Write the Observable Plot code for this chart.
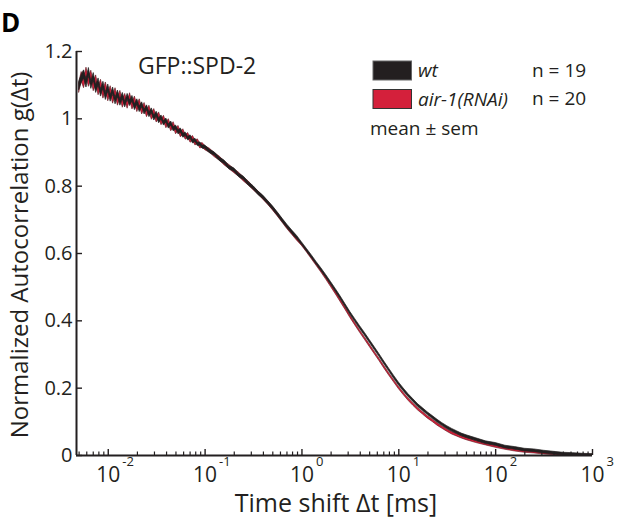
<!DOCTYPE html>
<html><head><meta charset="utf-8">
<script src="https://cdn.jsdelivr.net/npm/d3@7"></script>
<script src="https://cdn.jsdelivr.net/npm/@observablehq/plot@0.6"></script>
<style>body{margin:0;background:#fff} svg{display:block}</style>
</head><body><div id="chart"></div>
<script>
// Time shift Δt [ms]
const tMs = [
0.005012,0.005309,0.005623,0.005957,0.006310,0.006683,0.007079,0.007499,0.007943,0.008414,0.008913,0.009441,
0.01000,0.01059,0.01122,0.01189,0.01259,0.01334,0.01413,0.01496,0.01585,0.01679,0.01778,0.01884,0.01995,0.02113,
0.02239,0.02371,0.02512,0.02661,0.02818,0.02985,0.03162,0.03350,0.03548,0.03758,0.03981,0.04217,0.04467,0.04732,
0.05012,0.05309,0.05623,0.05957,0.06310,0.06683,0.07079,0.07499,0.07943,0.08414,0.08913,0.09441,
0.1000,0.1122,0.1259,0.1413,0.1585,0.1778,0.1995,0.2239,0.2512,0.2818,0.3162,0.3548,0.3981,0.4467,0.5012,0.5623,
0.6310,0.7079,0.7943,0.8913,1.000,1.122,1.259,1.413,1.585,1.778,1.995,2.239,2.512,2.818,3.162,3.548,3.981,4.467,
5.012,5.623,6.310,7.079,7.943,8.913,10.00,11.22,12.59,14.13,15.85,17.78,19.95,22.39,25.12,28.18,31.62,35.48,
39.81,44.67,50.12,
63.10,79.43,100.0,125.9,158.5,199.5,251.2,316.2,398.1,501.2,631.0,794.3,1000
];
// wt: mean and sem
const wtMean = [
1.098,1.118,1.132,1.105,1.140,1.100,1.125,1.088,1.110,1.076,1.100,1.066,1.092,1.060,1.084,1.052,1.075,1.048,
1.068,1.042,1.066,1.046,1.060,1.034,1.050,1.028,1.042,1.020,1.033,1.012,1.024,1.002,1.014,0.994,1.004,0.986,
0.995,0.977,0.986,0.969,0.974,0.960,0.965,0.950,0.954,0.941,0.946,0.932,0.936,0.924,0.925,0.916,
0.916,0.903,0.895,0.880,0.871,0.855,0.848,0.832,0.823,0.807,0.795,0.779,0.767,0.751,0.735,0.717,0.698,0.680,
0.663,0.647,0.629,0.610,0.591,0.571,0.552,0.532,0.511,0.490,0.468,0.445,0.422,0.401,0.380,0.360,0.339,0.318,
0.297,0.275,0.254,0.233,0.213,0.195,0.178,0.163,0.148,0.136,0.124,0.113,0.102,0.092,0.083,0.075,0.068,0.061,0.056,
0.047,0.038,0.033,0.025,0.021,0.016,0.014,0.010,0.007,0.004,0.003,0.001,0.000
];
const wtSem = [
0.012,0.012,0.012,0.012,0.011,0.011,0.011,0.011,0.010,0.010,0.010,0.010,0.010,0.009,0.009,0.009,0.009,0.009,
0.009,0.008,0.008,0.008,0.008,0.008,0.008,0.008,0.007,0.007,0.007,0.007,0.007,0.007,0.007,0.007,0.006,0.006,
0.006,0.006,0.006,0.006,0.006,0.006,0.006,0.006,0.005,0.005,0.005,0.005,0.005,0.005,0.005,0.005,
0.005,0.005,0.005,0.005,0.005,0.005,0.005,0.005,0.005,0.005,0.005,0.005,0.005,0.005,0.005,0.005,0.005,0.005,
0.005,0.005,0.004,0.004,0.004,0.004,0.004,0.004,0.004,0.004,0.004,0.004,0.004,0.004,0.004,0.004,0.004,0.004,
0.004,0.004,0.004,0.004,0.004,0.004,0.004,0.004,0.004,0.004,0.004,0.004,0.004,0.004,0.004,0.004,0.004,0.004,0.004,
0.004,0.004,0.004,0.004,0.004,0.004,0.004,0.004,0.004,0.004,0.004,0.004,0.004
];
// air-1(RNAi): mean and sem
const rnaiMean = [
1.092,1.125,1.105,1.138,1.108,1.130,1.095,1.116,1.082,1.104,1.072,1.096,1.064,1.086,1.056,1.080,1.050,1.072,
1.044,1.064,1.040,1.066,1.038,1.056,1.030,1.048,1.022,1.038,1.014,1.030,1.006,1.020,0.998,1.010,0.989,1.001,
0.980,0.991,0.971,0.982,0.962,0.971,0.953,0.961,0.945,0.951,0.936,0.942,0.928,0.932,0.919,0.921,
0.913,0.905,0.892,0.882,0.868,0.857,0.845,0.834,0.820,0.808,0.793,0.780,0.765,0.750,0.733,0.715,0.696,0.677,
0.660,0.643,0.626,0.607,0.587,0.567,0.547,0.526,0.504,0.482,0.459,0.436,0.412,0.390,0.368,0.347,0.326,0.305,
0.284,0.262,0.241,0.221,0.201,0.183,0.166,0.151,0.137,0.125,0.113,0.103,0.092,0.083,0.074,0.066,0.060,0.054,0.049,
0.040,0.033,0.026,0.020,0.015,0.011,0.009,0.006,0.004,0.002,0.001,0.000,0.000
];
const rnaiSem = [
0.014,0.014,0.014,0.014,0.013,0.013,0.013,0.013,0.012,0.012,0.012,0.012,0.012,0.011,0.011,0.011,0.011,0.011,
0.011,0.010,0.010,0.010,0.010,0.010,0.010,0.010,0.009,0.009,0.009,0.009,0.009,0.009,0.009,0.009,0.008,0.008,
0.008,0.008,0.008,0.008,0.008,0.008,0.008,0.008,0.007,0.007,0.007,0.007,0.007,0.007,0.007,0.007,
0.006,0.006,0.006,0.006,0.006,0.006,0.006,0.006,0.006,0.006,0.005,0.005,0.005,0.005,0.005,0.005,0.005,0.005,
0.005,0.005,0.0035,0.0035,0.0035,0.0035,0.0035,0.0035,0.0035,0.0035,0.0035,0.0035,0.0035,0.0035,0.0035,0.0035,0.0035,0.0035,
0.0035,0.0035,0.0035,0.0035,0.0035,0.0035,0.0035,0.0035,0.0035,0.0035,0.0035,0.0035,0.0035,0.0035,0.0035,0.0035,0.0035,0.0035,0.0035,
0.003,0.003,0.003,0.003,0.003,0.003,0.003,0.003,0.003,0.003,0.003,0.003,0.003
];
const seriesNames = ["wt", "air-1(RNAi)"];
const seriesN = ["n = 19", "n = 20"];
const yTicks = [0, 0.2, 0.4, 0.6, 0.8, 1, 1.2];
const yTickLabels = ["0", "0.2", "0.4", "0.6", "0.8", "1", "1.2"];
const xMajor = [0.01, 0.1, 1, 10, 100, 1000];
const xMajorExp = ["-2", "-1", "0", "1", "2", "3"];
const xDomain = [0.0047, 1000];

const RED = "#d4203b", BLACK = "#231f20", AX = "#231f20";
const W = 617, H = 524, mL = 76, mR = 25, mT = 51, mB = 69;
const plotW = W - mL - mR, plotH = H - mT - mB;

const rows = tMs.map((t, i) => ({
  t,
  wtLo: wtMean[i] - wtSem[i], wtHi: wtMean[i] + wtSem[i],
  rLo: rnaiMean[i] - rnaiSem[i], rHi: rnaiMean[i] + rnaiSem[i]
}));

const xMinor = [];
for (let k = -3; k <= 2; k++) for (let m = 2; m <= 9; m++) {
  const v = m * Math.pow(10, k);
  if (v >= xDomain[0] && v <= xDomain[1]) xMinor.push(v);
}

const ff = "'Open Sans', sans-serif";
const chart = Plot.plot({
  width: W, height: H, marginLeft: mL, marginRight: mR, marginTop: mT, marginBottom: mB,
  style: {fontFamily: ff, background: "white", color: AX, overflow: "visible"},
  x: {type: "log", domain: xDomain, axis: null},
  y: {domain: [0, 1.2], axis: null},
  marks: [
    Plot.areaY(rows, {x: "t", y1: "rLo", y2: "rHi", fill: RED, stroke: "#5a1018", strokeWidth: 0.6, clip: true}),
    Plot.areaY(rows, {x: "t", y1: "wtLo", y2: "wtHi", fill: BLACK, stroke: BLACK, strokeWidth: 0.7, clip: true}),
    Plot.ruleY([0], {stroke: AX, strokeWidth: 2}),
    Plot.ruleX([xDomain[0]], {y1: 0, y2: 1.2, stroke: AX, strokeWidth: 2}),
    Plot.tickY(yTicks, {y: d => d, insetRight: plotW - 6, stroke: AX, strokeWidth: 1.4}),
    Plot.tickX(xMajor, {x: d => d, insetTop: plotH - 6, stroke: AX, strokeWidth: 1.4}),
    Plot.tickX(xMinor, {x: d => d, insetTop: plotH - 3.5, stroke: AX, strokeWidth: 1.2}),
    Plot.text(yTicks, {y: d => d, text: (d, i) => yTickLabels[i], frameAnchor: "left", dx: -4, textAnchor: "end", fontSize: 20, fill: AX}),
    Plot.text(xMajor, {x: d => d, text: () => "10", frameAnchor: "bottom", dy: 26, fontSize: 21, fill: AX}),
    Plot.text(xMajor, {x: d => d, text: (d, i) => xMajorExp[i], frameAnchor: "bottom", dx: 14, dy: 10, textAnchor: "start", fontSize: 13, fill: AX})
  ]
});
document.getElementById("chart").appendChild(chart);

const svg = d3.select(chart);
function txt(x, y, s, size, opts = {}) {
  const t = svg.append("text").attr("x", x).attr("y", y)
    .attr("font-family", ff).attr("font-size", size).attr("fill", opts.fill || AX)
    .attr("text-anchor", opts.anchor || "start").text(s);
  if (opts.weight) t.attr("font-weight", opts.weight);
  if (opts.italic) t.attr("font-style", "italic");
  if (opts.transform) t.attr("transform", opts.transform);
  return t;
}
txt(1, 32, "D", 26, {weight: "bold", fill: "#000"});
txt(138, 74, "GFP::SPD-2", 23);
txt(0, 0, "Normalized Autocorrelation g(\u0394t)", 24, {anchor: "middle", transform: "translate(28,255) rotate(-90)"});
txt(336, 512, "Time shift \u0394t [ms]", 25, {anchor: "middle"});

// legend
const leg = [{fill: BLACK, stroke: "#666", y: 61}, {fill: RED, stroke: "#333", y: 89.5}];
leg.forEach((l, i) => {
  svg.append("rect").attr("x", 373).attr("y", l.y).attr("width", 38.5).attr("height", 19)
    .attr("fill", l.fill).attr("stroke", l.stroke).attr("stroke-width", 1);
  txt(418, l.y + 16, seriesNames[i], 19, {italic: true});
  txt(532, l.y + 15.5, seriesN[i], 19);
});
txt(370, 135, "mean \u00b1 sem", 19);
</script></body></html>
